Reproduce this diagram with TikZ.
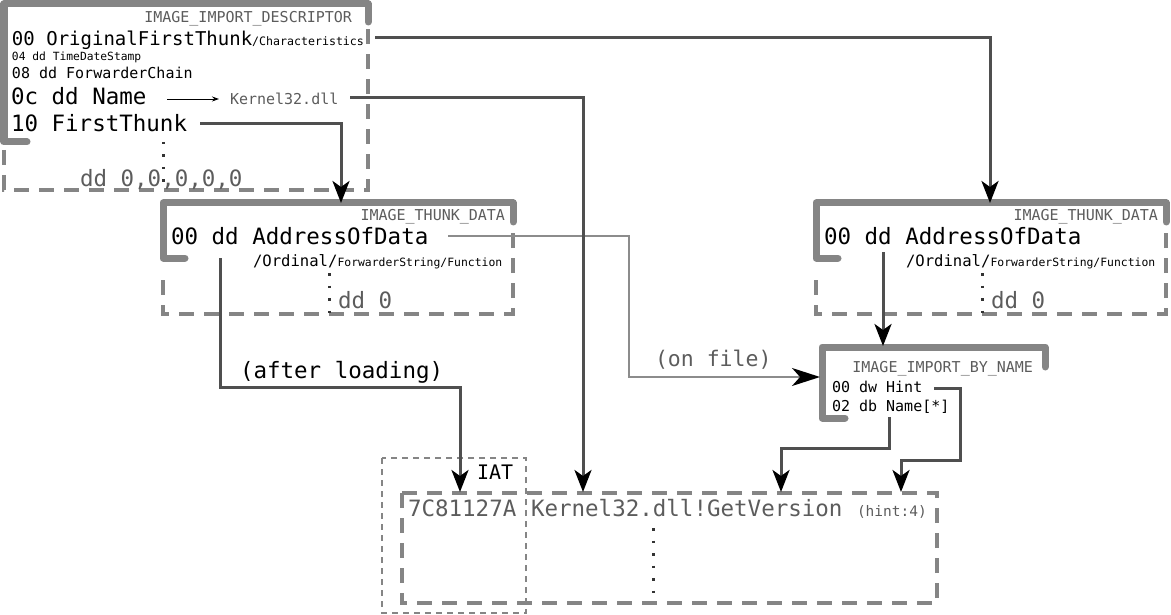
\documentclass[tikz,border=0pt]{standalone}
\usepackage{fontspec}
\newfontfamily\monof{DejaVu Sans Mono}
\usetikzlibrary{arrows.meta}
\definecolor{boxgray}{HTML}{858585}
\definecolor{conngray}{HTML}{4F4F4F}
\definecolor{txtgray}{HTML}{5C5C5C}
\definecolor{thingray}{HTML}{8C8C8C}
\newcommand\fz[1]{\fontsize{#1}{#1}\selectfont}
\tikzset{
 solidbox/.style={draw=boxgray, line width=7pt, line cap=round, line join=round},
 dashbox/.style={draw=boxgray, line width=4pt, dash pattern=on 15pt off 10pt},
 dotbox/.style={draw=boxgray, line width=1.5pt, dash pattern=on 6pt off 5pt},
 dotline/.style={draw=black!80, line width=3pt, dash pattern=on 2.5pt off 10pt},
 conn/.style={draw=conngray, line width=3pt, -{Stealth[length=22pt,width=17pt,inset=6pt,color=black]}},
 fileconn/.style={draw=thingray, line width=1.8pt, -{Stealth[length=28pt,width=18pt,inset=8pt,color=black]}},
 smallconn/.style={draw=black, line width=0.9pt, -{Stealth[length=7pt,width=5pt]}},
 txt/.style={inner sep=0pt, outer sep=0pt, font=\monof, text=black},
 gtxt/.style={txt, text=txtgray},
}
\newcommand\ThunkBox[2]{%
 \begin{scope}[xshift=#2]
  \draw[solidbox] (185,258) -- (163,258) -- (163,203) -- (513,203) -- (513,222);
  \draw[dashbox] (163,280) -- (163,314) -- (513,314) -- (513,226);
  \node[gtxt, anchor=base east] (#1title) at (505,221) {\fz{15}IMAGE\_THUNK\_DATA};
  \node[txt, anchor=base west] (#1addr) at (171,244) {\fz{22.5}00 dd AddressOfData};
  \node[txt, anchor=base west] (#1ord) at (253,266) {\fz{15.6}/Ordinal/\fz{11.4}ForwarderString/Function};
  \draw[dotline] (329,273) -- (329,313);
  \node[gtxt, anchor=base west] (#1dd) at (338,308) {\fz{22.5}dd 0};
 \end{scope}}
\begin{document}
\begin{tikzpicture}[x=1pt,y=-1pt]
\useasboundingbox (0,0) rectangle (1171,615);
% IMAGE_IMPORT_DESCRIPTOR
\draw[solidbox] (27,142) -- (4,142) -- (4,4) -- (368,4) -- (368,22);
\draw[dashbox] (4,150) -- (4,190) -- (368,190) -- (368,26);
\node[gtxt, anchor=base east] (d1title) at (352,22.5) {\fz{15}IMAGE\_IMPORT\_DESCRIPTOR};
\node[txt, anchor=base west] (d1a) at (12,46) {\fz{19}00 OriginalFirstThunk\fz{11.6}/Characteristics};
\node[txt, anchor=base west] (d1b) at (12,61) {\fz{11.3}04 dd TimeDateStamp};
\node[txt, anchor=base west] (d1c) at (12,79) {\fz{15}08 dd ForwarderChain};
\node[txt, anchor=base west] (d1d) at (11,105) {\fz{22.5}0c dd Name};
\node[gtxt, anchor=base west] (kname) at (230,104.5) {\fz{15}Kernel32.dll};
\node[txt, anchor=base west] (d1e) at (11,132) {\fz{22.5}10 FirstThunk};
\node[gtxt, anchor=base west] (d1z) at (80,186) {\fz{22.5}dd 0,0,0,0,0};
\draw[dotline] (163,142) -- (163,184);
% thunk boxes
\ThunkBox{b2}{0pt}
\ThunkBox{b3}{653pt}
% IMAGE_IMPORT_BY_NAME
\draw[solidbox] (845,418) -- (822,418) -- (822,347) -- (1045,347) -- (1045,367);
\node[gtxt, anchor=base east] (ibntitle) at (1033,372) {\fz{15}IMAGE\_IMPORT\_BY\_NAME};
\node[txt, anchor=base west] (hint) at (832,392) {\fz{15}00 dw Hint};
\node[txt, anchor=base west] (nm) at (832,411) {\fz{15}02 db Name[*]};
% IAT
\draw[dotbox] (382,458) rectangle (526,613);
\draw[dashbox] (402,493) rectangle (937,603);
\node[txt, anchor=base west] (iat) at (477,479) {\fz{20}IAT};
\node[gtxt, anchor=base west] (addr) at (408,516) {\fz{22.5}7C81127A};
\node[gtxt, anchor=base west] (gv) at (531,516) {\fz{22.5}Kernel32.dll!GetVersion};
\node[gtxt, anchor=base west] (hint4) at (857,516) {\fz{14.5}(hint:4)};
\draw[dotline] (653,528) -- (653,594);
% labels
\node[gtxt, anchor=base west] (onfile) at (655,366) {\fz{21.5}(on file)};
\node[txt, anchor=base west] (after) at (240,378) {\fz{22.5}(after loading)};
% connectors
\coordinate (nmS) at (167,99); \coordinate (nmE) at (219,99);
\draw[smallconn] (nmS) -- (nmE);
\coordinate (adS) at (448,236); \coordinate (adT) at (629,300); \coordinate (adE) at (820,377);
\draw[fileconn] (adS) -| (adT) |- (adE);
\coordinate (oftS) at (375,38); \coordinate (oftE) at (990,203);
\draw[conn] (oftS) -| (oftE);
\coordinate (knS) at (350,98); \coordinate (knE) at (583,492);
\draw[conn] (knS) -| (knE);
\coordinate (ftS) at (200,124); \coordinate (ftE) at (341,203);
\draw[conn] (ftS) -| (ftE);
\coordinate (alS) at (220,258); \coordinate (alT) at (340,387); \coordinate (alE) at (460,492);
\draw[conn] (alS) |- (alT) -| (alE);
\coordinate (b3S) at (883,252); \coordinate (b3E) at (883,346);
\draw[conn] (b3S) -- (b3E);
\coordinate (n2S) at (889,417); \coordinate (n2T) at (850,448); \coordinate (n2E) at (781,492);
\draw[conn] (n2S) |- (n2T) -| (n2E);
\coordinate (hS) at (934,388); \coordinate (hT) at (960,460); \coordinate (hE) at (901,492);
\draw[conn] (hS) -| (hT) -| (hE);
\end{tikzpicture}
\end{document}
